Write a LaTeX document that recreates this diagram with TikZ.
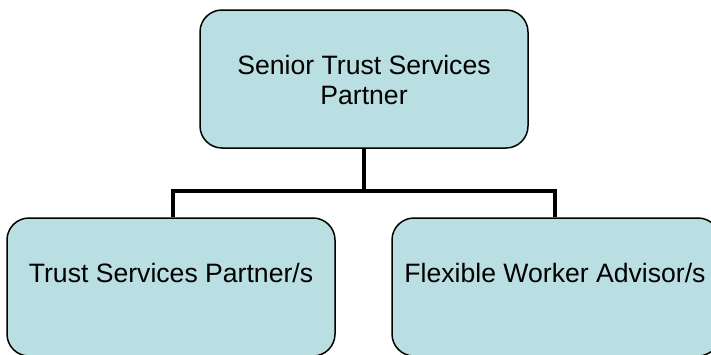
\documentclass[tikz,border=0pt]{standalone}
\usepackage{fontspec}
\setmainfont{Liberation Sans}
\definecolor{boxfill}{RGB}{186,223,227}
\tikzset{
  orgbox/.style={draw=black, line width=1.5pt, fill=boxfill, rounded corners=22pt,
    minimum width=328pt, minimum height=138pt, inner sep=0pt, anchor=center},
  orglabel/.style={font=\fontsize{26.6}{30}\selectfont, align=center, inner sep=0pt},
  conn/.style={draw=black, line width=4.5pt}
}
\begin{document}
\begin{tikzpicture}[x=1pt,y=-1pt]
\useasboundingbox (0,0) rectangle (711,354);
\clip (0,0) rectangle (711,354);
\fill[white] (0,0) rectangle (711,354);
\node[orgbox] (top) at (364,79) {};
\node[orgbox] (left) at (171,287) {};
\node[orgbox] (right) at (556,287) {};
\node[orglabel] (toptext) at (364,80) {Senior Trust Services\\Partner};
\node[orglabel] (lefttext) at (171,273) {Trust Services Partner/s};
\node[orglabel] (righttext) at (555,273) {Flexible Worker Advisor/s};
\coordinate (bus) at (364,191);
\draw[conn] (top.south) -- (bus);
\draw[conn] (left.north -| 173,0) |- (bus) -| (right.north -| 555,0);
\end{tikzpicture}
\end{document}
